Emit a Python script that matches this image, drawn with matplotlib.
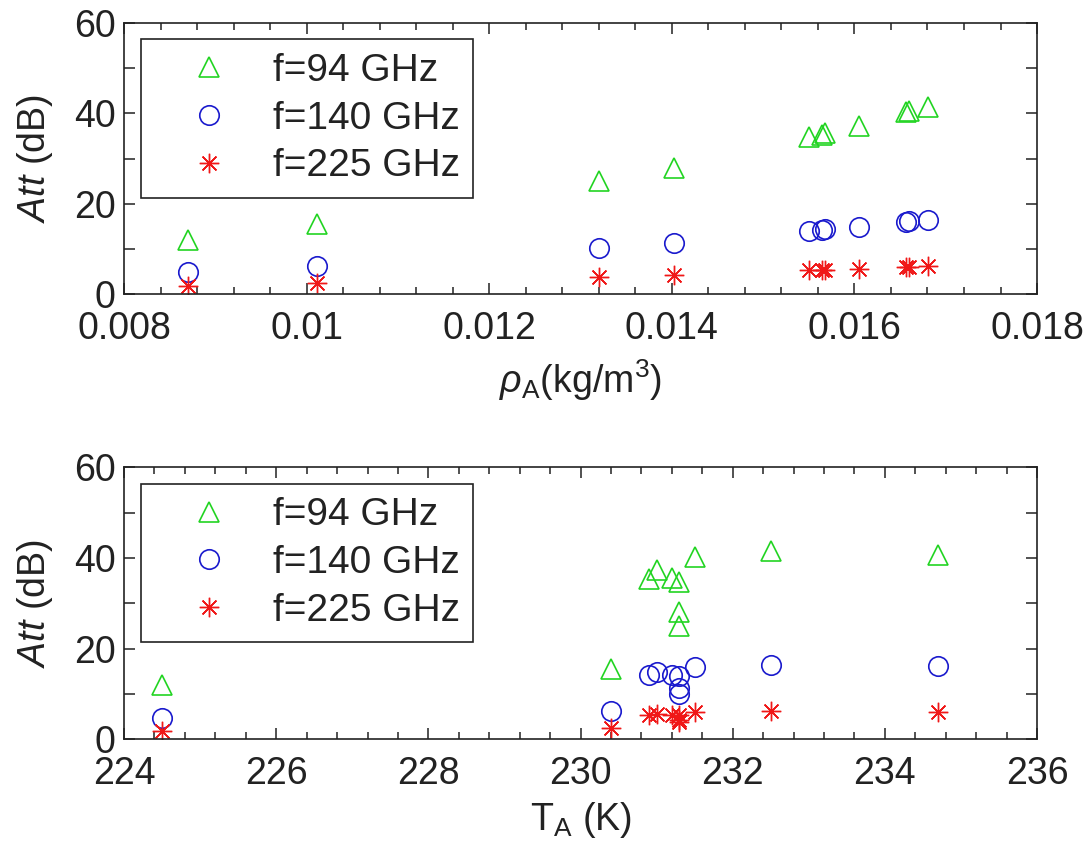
import matplotlib
matplotlib.use('Agg')
import matplotlib.pyplot as plt
from matplotlib.ticker import MultipleLocator

plt.rcParams['font.family'] = ['Liberation Sans', 'DejaVu Sans']
plt.rcParams['mathtext.fontset'] = 'custom'
plt.rcParams['mathtext.rm'] = 'Liberation Sans'
plt.rcParams['mathtext.it'] = 'Liberation Sans:italic'

# measured points (same attenuation for both panels)
rho_A = [0.00870, 0.01011, 0.01320, 0.01402, 0.01550, 0.01565, 0.01568,
         0.01605, 0.01656, 0.01660, 0.01681]
T_A = [224.5, 230.4, 231.3, 231.3, 231.3, 230.9, 231.2,
       231.0, 231.5, 234.7, 232.5]
att_94 = [11.9, 15.5, 25.1, 28.0, 34.7, 35.3, 35.6, 37.3, 40.2, 40.6, 41.5]
att_140 = [4.8, 6.3, 10.1, 11.3, 13.9, 14.2, 14.3, 14.9, 16.0, 16.2, 16.4]
att_225 = [1.8, 2.4, 3.8, 4.2, 5.3, 5.4, 5.3, 5.6, 6.0, 6.0, 6.2]

labels = ['f=94 GHz', 'f=140 GHz', 'f=225 GHz']
green = '#22d422'
blue = '#1a1acd'
red = '#f01818'

fig = plt.figure(figsize=(10.89, 8.5), dpi=100)
ax1 = fig.add_axes([0.1139, 0.6541, 0.8384, 0.3188])
ax2 = fig.add_axes([0.1139, 0.1302, 0.8384, 0.3200])

fs = 27


def draw(ax, x):
    ax.plot(x, att_94, linestyle='none', marker='^', ms=15, mfc='none',
            mec=green, mew=1.2, label=labels[0])
    ax.plot(x, att_140, linestyle='none', marker='o', ms=14, mfc='none',
            mec=blue, mew=1.2, label=labels[1])
    ax.plot(x, att_225, linestyle='none', marker=(8, 2, 0), ms=14,
            mec=red, mew=1.0, label=labels[2])
    ax.set_ylim(0, 60)
    ax.yaxis.set_major_locator(MultipleLocator(20))
    ax.yaxis.set_minor_locator(MultipleLocator(10))
    ax.tick_params(which='both', direction='in', top=True, right=True,
                   labelsize=fs, width=1.1, colors='#222222')
    ax.tick_params(axis='x', which='both', pad=12)
    ax.tick_params(axis='y', which='both', pad=6)
    ax.tick_params(which='major', length=8)
    ax.tick_params(which='minor', length=5)
    ax.tick_params(axis='y', which='minor', length=8)
    for s in ax.spines.values():
        s.set_linewidth(1.2)
        s.set_color('#222222')
    ax.set_ylabel(r'$\mathit{Att}$ (dB)', fontsize=fs, labelpad=14, color='#222222')
    leg = ax.legend(loc='upper left', bbox_to_anchor=(0.0182, 0.94),
                    borderaxespad=0, fontsize=28, fancybox=False,
                    edgecolor='#222222', framealpha=1, handlelength=2.8,
                    handletextpad=0.25, labelspacing=0.3, borderpad=0.35)
    leg.get_frame().set_linewidth(1.2)
    for t in leg.get_texts():
        t.set_color('#222222')


draw(ax1, rho_A)
ax1.set_xlim(0.008, 0.018)
ax1.set_xticks([0.008, 0.01, 0.012, 0.014, 0.016, 0.018])
ax1.set_xticklabels(['0.008', '0.01', '0.012', '0.014', '0.016', '0.018'])
ax1.xaxis.set_minor_locator(MultipleLocator(0.0004))
ax1.set_xlabel(r'$\rho_{\mathrm{A}}$(kg/m$^3$)', fontsize=fs, labelpad=8,
               color='#222222')

draw(ax2, T_A)
ax2.set_xlim(224, 236)
ax2.xaxis.set_major_locator(MultipleLocator(2))
ax2.xaxis.set_minor_locator(MultipleLocator(0.4))
ax2.set_xlabel(r'T$_{\mathrm{A}}$ (K)', fontsize=fs, labelpad=6, color='#222222')

fig.savefig('out.png', dpi=100)
